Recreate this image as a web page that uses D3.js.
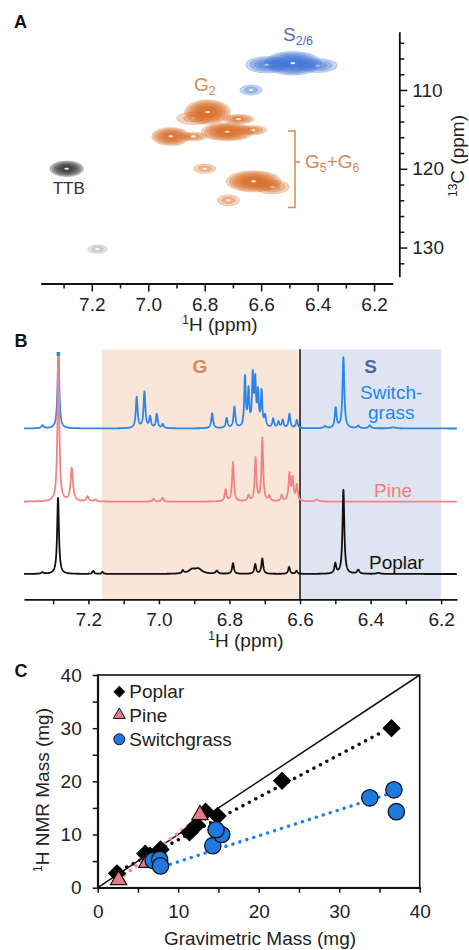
<!DOCTYPE html>
<html>
<head>
<meta charset="utf-8">
<script src="https://cdn.jsdelivr.net/npm/d3@7"></script>
<style>
  body { margin: 0; background: #fff; }
  svg { display: block; font-family: "Liberation Sans", Arial, sans-serif; }
</style>
</head>
<body>
<svg id="fig" width="469" height="950"></svg>
<script>
// ---------------------------------------------------------------------------
// DATA
// ---------------------------------------------------------------------------

// Panel A: HSQC cross peaks [1H ppm, 13C ppm, 1H half-width, 13C half-width, levels, unit]
const hsqcPeaks = [
  [6.580, 106.8, 0.075, 1.05, 4, "S"],
  [6.400, 106.9, 0.070, 0.90, 3, "S"],
  [6.488, 106.6, 0.100, 1.50, 7, "S"],
  [6.636, 110.0, 0.040, 0.65, 2, "S"],
  [6.840, 113.6, 0.060, 0.80, 2, "G"],
  [6.790, 112.8, 0.082, 1.55, 7, "G"],
  [6.680, 113.7, 0.055, 0.60, 4, "G"],
  [6.920, 115.9, 0.068, 1.15, 6, "G"],
  [6.840, 115.9, 0.050, 0.55, 3, "G"],
  [6.630, 115.1, 0.050, 0.60, 3, "G"],
  [6.720, 115.3, 0.092, 1.15, 7, "G"],
  [6.800, 120.0, 0.040, 0.60, 2, "G"],
  [6.560, 122.3, 0.060, 0.90, 3, "G"],
  [6.627, 121.6, 0.097, 1.35, 7, "G"],
  [6.716, 124.0, 0.040, 0.70, 2, "G"],
  [7.289, 120.0, 0.060, 1.00, 6, "TTB"],
  [7.180, 130.2, 0.035, 0.55, 2, "other"]
];
const hsqcColors = { S: "#3a6fd6", G: "#d66a22", TTB: "#333333", other: "#9a9a9a" };

// Panel B: 1H peak lists [ppm, height, half-width]
const switchgrassPeaks = [
  [7.330, 3, 0.004], [7.285, 75, 0.003], [7.063, 31, 0.003], [7.041, 36, 0.003],
  [7.025, 11, 0.003], [7.006, 14, 0.003], [6.989, 4, 0.003], [6.849, 15, 0.003],
  [6.808, 10, 0.003], [6.786, 21, 0.003], [6.756, 50, 0.0025], [6.746, 36, 0.0025],
  [6.734, 50, 0.0025], [6.727, 44, 0.0025], [6.719, 33, 0.0025], [6.709, 35, 0.0025],
  [6.699, 11, 0.003], [6.676, 9, 0.003], [6.661, 6, 0.003], [6.649, 8, 0.003],
  [6.630, 14, 0.003], [6.609, 8, 0.003], [6.529, 2, 0.004], [6.499, 20, 0.003],
  [6.477, 71, 0.003], [6.435, 2.5, 0.004], [6.402, 3, 0.004], [6.336, 1, 0.01]
];
const pinePeaks = [
  [7.285, 145, 0.003], [7.247, 33, 0.004], [7.202, 5, 0.004], [7.180, 2, 0.004],
  [7.015, 3, 0.003], [6.990, 4, 0.003], [6.811, 11.7, 0.003], [6.790, 39, 0.003],
  [6.746, 6, 0.003], [6.726, 43, 0.0028], [6.707, 63, 0.0028], [6.687, 5, 0.003],
  [6.652, 6, 0.003], [6.630, 27, 0.003], [6.621, 22, 0.003], [6.609, 16, 0.003],
  [6.553, 2, 0.006]
];
const poplarPeaks = [
  [7.330, 1.5, 0.004], [7.286, 76, 0.003], [7.186, 3, 0.003], [7.160, 2, 0.003],
  [6.932, 3, 0.003], [6.906, 4, 0.012], [6.888, 4.5, 0.012], [6.836, 3, 0.004],
  [6.790, 10.7, 0.003], [6.727, 9.7, 0.003], [6.707, 15.3, 0.003], [6.631, 7, 0.003],
  [6.610, 3, 0.003], [6.500, 10, 0.003], [6.477, 84, 0.003], [6.435, 4, 0.004],
  [6.378, 1, 0.006]
];
const regionG = [7.162, 6.6];
const regionS = [6.6, 6.2];

// Panel C: gravimetric vs 1H NMR mass (mg)
const poplarGrav = [2.4, 5.9, 6.5, 7.8, 11.4, 12.3, 13.4, 14.9, 22.9, 36.5];
const poplarNmr  = [2.7, 6.4, 6.0, 7.2, 10.4, 11.8, 14.3, 13.5, 20.1, 30.0];
const pineGrav = [2.6, 6.1, 12.7];
const pineNmr  = [1.45, 4.7, 13.7];
const switchgrassGrav = [6.9, 7.7, 7.8, 14.3, 15.4, 14.7, 33.8, 36.8, 37.1];
const switchgrassNmr  = [5.1, 5.3, 4.1, 7.9, 10.0, 10.9, 16.9, 18.4, 14.3];
// linear fits [slope, intercept, xStart, xEnd]
const fitPoplar = [0.80, 1.0, 2.0, 35.5];
const fitPine = [1.18, -1.5, 2.6, 12.6];
const fitSwitchgrass = [0.488, 0.0, 7.3, 36.6];

// ---------------------------------------------------------------------------
// SETUP
// ---------------------------------------------------------------------------
const svg = d3.select("#fig");
const FONT = 19;
const ink = "#222";

function panelLabel(t, x, y) {
  svg.append("text").attr("x", x).attr("y", y)
    .attr("font-size", 18).attr("font-weight", "bold").attr("fill", "#111").text(t);
}

function supLabel(g, pre, rest) {
  g.append("tspan").attr("font-size", 12).attr("dy", -7).text(pre);
  g.append("tspan").attr("dy", 7).text(rest);
}

// -------------------------------------------------------------------------
// PANEL A : 2D HSQC
// -------------------------------------------------------------------------
const xA = d3.scaleLinear().domain([7.381, 6.134]).range([40.7, 392.7]);
const yA = d3.scaleLinear().domain([102.6, 133.7]).range([31.7, 276.7]);

const peaksA = svg.append("g");
hsqcPeaks.forEach(([h, c, wh, wc, n, unit]) => {
  const cx = xA(h), cy = yA(c);
  const rx = Math.abs(xA(h + wh) - cx), ry = Math.abs(yA(c + wc) - cy);
  const col = hsqcColors[unit];
  for (let k = 0; k < n; k++) {
    const s = 1 - k * 0.8 / n;
    peaksA.append("ellipse")
      .attr("cx", cx).attr("cy", cy).attr("rx", rx * s).attr("ry", ry * s)
      .attr("fill", col).attr("fill-opacity", 0.3)
      .attr("stroke", col).attr("stroke-opacity", 0.35).attr("stroke-width", 0.6);
  }
  peaksA.append("ellipse")
    .attr("cx", cx).attr("cy", cy).attr("rx", 2.4).attr("ry", 1.1)
    .attr("fill", "#fff").attr("fill-opacity", 0.85);
});

const ticksA = [73, 72, 71, 70, 69, 68, 67, 66, 65, 64, 63, 62].map(v => v / 10);
const isEven = d => Math.round(d * 10) % 2 === 0;

const axA = svg.append("g").attr("transform", "translate(0,283.5)")
  .call(d3.axisBottom(xA).tickValues(ticksA).tickSizeOuter(0)
    .tickFormat(d => isEven(d) ? d.toFixed(1) : ""));
axA.selectAll(".tick line").attr("y2", d => isEven(d) ? 8 : 5);

const ticksAy = d3.range(104, 133, 2);
const ayA = svg.append("g").attr("transform", "translate(399.3,0)")
  .call(d3.axisRight(yA).tickValues(ticksAy).tickSizeOuter(0)
    .tickFormat(d => d % 10 === 0 ? d : ""));
ayA.selectAll(".tick line").attr("x2", d => d % 10 === 0 ? 8 : 5);
ayA.selectAll(".tick text").attr("x", 13);

// A labels
const sLab = svg.append("text").attr("x", 283).attr("y", 40.7)
  .attr("font-size", FONT).attr("fill", "#4a70b8").text("S");
sLab.append("tspan").attr("font-size", 12.5).attr("dy", 4).text("2/6");

const g2 = svg.append("text").attr("x", 194).attr("y", 90.7)
  .attr("font-size", FONT).attr("fill", "#d8884f").text("G");
g2.append("tspan").attr("font-size", 12.5).attr("dy", 4).text("2");

const g56 = svg.append("text").attr("x", 305).attr("y", 168.3)
  .attr("font-size", FONT).attr("fill", "#d8884f").text("G");
g56.append("tspan").attr("font-size", 12.5).attr("dy", 4).text("5");
g56.append("tspan").attr("dy", -4).text("+G");
g56.append("tspan").attr("font-size", 12.5).attr("dy", 4).text("6");

svg.append("path")
  .attr("d", `M288,${yA(115.2)}H295V${yA(124.9)}H288M295,162H300`)
  .attr("fill", "none").attr("stroke", "#d8884f").attr("stroke-width", 1.5);

svg.append("text").attr("x", 52.7).attr("y", 194.3)
  .attr("font-size", 17).attr("fill", "#333").text("TTB");

const xlabA = svg.append("text").attr("x", 220).attr("y", 331)
  .attr("text-anchor", "middle").attr("font-size", FONT).attr("fill", ink);
supLabel(xlabA, "1", "H (ppm)");

const ylabA = svg.append("text").attr("transform", "translate(464,156) rotate(-90)")
  .attr("text-anchor", "middle").attr("font-size", FONT).attr("fill", ink);
supLabel(ylabA, "13", "C (ppm)");

panelLabel("A", 14, 28);

// -------------------------------------------------------------------------
// PANEL B : 1D 1H spectra
// -------------------------------------------------------------------------
const xB = d3.scaleLinear().domain([7.3825, 6.155]).range([24, 457]);
const yTopB = 349.3, axisYB = 599.3;

svg.append("rect").attr("x", xB(regionG[0])).attr("y", yTopB)
  .attr("width", xB(regionG[1]) - xB(regionG[0])).attr("height", axisYB - yTopB)
  .attr("fill", "#fae6d8");
svg.append("rect").attr("x", xB(regionS[0])).attr("y", yTopB)
  .attr("width", xB(regionS[1]) - xB(regionS[0])).attr("height", axisYB - yTopB)
  .attr("fill", "#dfe4f2");
svg.append("line").attr("x1", xB(6.6)).attr("x2", xB(6.6))
  .attr("y1", yTopB).attr("y2", axisYB).attr("stroke", "#111").attr("stroke-width", 1.5);

const grid = d3.range(7.3825, 6.155, -0.0005);
function spectrum(peaks) {
  return grid.map(x => [x, d3.sum(peaks, ([p, h, w]) => h * w * w / ((x - p) * (x - p) + w * w))]);
}

const spectra = [
  { name: "Switchgrass", peaks: switchgrassPeaks, base: 428.5, color: "#2a86ea" },
  { name: "Pine", peaks: pinePeaks, base: 501.7, color: "#f58282" },
  { name: "Poplar", peaks: poplarPeaks, base: 574, color: "#111" }
];

spectra.forEach(s => {
  const y = d3.scaleLinear().domain([0, 150]).range([s.base, s.base - 150]);
  const line = d3.line().x(d => xB(d[0])).y(d => y(d[1]));
  svg.append("path").attr("d", line(spectrum(s.peaks)))
    .attr("fill", "none").attr("stroke", s.color).attr("stroke-width", 1.8)
    .attr("stroke-linejoin", "round");
  if (s.name === "Switchgrass") {
    const top = d3.max(s.peaks, d => d[1]);
    svg.append("rect").attr("x", xB(7.285) - 1.8).attr("y", y(top) - 1.5)
      .attr("width", 3.6).attr("height", 4).attr("fill", s.color);
  }
});

const axB = svg.append("g").attr("transform", `translate(0,${axisYB})`)
  .call(d3.axisBottom(xB).tickValues(ticksA).tickSizeOuter(0)
    .tickFormat(d => isEven(d) ? d.toFixed(1) : ""));
axB.selectAll(".tick line").attr("y2", 5);

svg.append("text").attr("x", 200).attr("y", 373.3).attr("text-anchor", "middle")
  .attr("font-size", FONT).attr("font-weight", "bold").attr("fill", "#d9884f").text("G");
svg.append("text").attr("x", 370.5).attr("y", 373.3).attr("text-anchor", "middle")
  .attr("font-size", FONT).attr("font-weight", "bold").attr("fill", "#55669e").text("S");
svg.append("text").attr("x", 360).attr("y", 399)
  .attr("font-size", FONT).attr("fill", "#1f86ee").text("Switch-");
svg.append("text").attr("x", 368).attr("y", 418.5)
  .attr("font-size", FONT).attr("fill", "#1f86ee").text("grass");
svg.append("text").attr("x", 374).attr("y", 496.7)
  .attr("font-size", FONT).attr("fill", "#f47c7c").text("Pine");
svg.append("text").attr("x", 369).attr("y", 569)
  .attr("font-size", FONT).attr("fill", "#111").text("Poplar");

const xlabB = svg.append("text").attr("x", 246).attr("y", 646.5)
  .attr("text-anchor", "middle").attr("font-size", FONT).attr("fill", ink);
supLabel(xlabB, "1", "H (ppm)");

panelLabel("B", 14.5, 347);

// -------------------------------------------------------------------------
// PANEL C : mass comparison
// -------------------------------------------------------------------------
const xC = d3.scaleLinear().domain([0, 40]).range([97.7, 419.7]);
const yC = d3.scaleLinear().domain([0, 40]).range([887.7, 675]);

const ticksC = d3.range(0, 41, 5);
const axC = svg.append("g").attr("transform", `translate(0,${yC(0)})`)
  .call(d3.axisBottom(xC).tickValues(ticksC).tickSize(5).tickSizeOuter(0)
    .tickFormat(d => d % 10 === 0 ? d : ""));
const ayC = svg.append("g").attr("transform", `translate(${xC(0)},0)`)
  .call(d3.axisLeft(yC).tickValues(ticksC).tickSize(5).tickSizeOuter(0)
    .tickFormat(d => d % 10 === 0 ? d : ""));
ayC.selectAll(".tick text").attr("x", -16);

svg.append("rect").attr("x", xC(0)).attr("y", yC(40))
  .attr("width", xC(40) - xC(0)).attr("height", yC(0) - yC(40))
  .attr("fill", "none").attr("stroke", "#111").attr("stroke-width", 1.6);

const lineC = d3.line().x(d => xC(d[0])).y(d => yC(d[1]));
svg.append("path").attr("d", lineC([[0, 0], [40, 40]]))
  .attr("stroke", "#111").attr("stroke-width", 1.5).attr("fill", "none");

[[fitPoplar, "#111"], [fitPine, "#ef7f90"], [fitSwitchgrass, "#1f7fe8"]].forEach(([f, col]) => {
  const [m, b, x0, x1] = f;
  svg.append("path").attr("d", lineC([[x0, m * x0 + b], [x1, m * x1 + b]]))
    .attr("fill", "none").attr("stroke", col).attr("stroke-width", 3.4)
    .attr("stroke-linecap", "round").attr("stroke-dasharray", "0.1,7.2");
});

const diamond = d3.symbol(d3.symbolSquare, 144)();
const triangle = d3.symbol(d3.symbolTriangle, 115)();
const circle = d3.symbol(d3.symbolCircle, 210)();

svg.append("g").selectAll("path").data(d3.zip(poplarGrav, poplarNmr)).join("path")
  .attr("d", diamond).attr("transform", d => `translate(${xC(d[0])},${yC(d[1])}) rotate(45)`)
  .attr("fill", "#000").attr("stroke", "#000").attr("stroke-width", 1);
svg.append("g").selectAll("path").data(d3.zip(pineGrav, pineNmr)).join("path")
  .attr("d", triangle).attr("transform", d => `translate(${xC(d[0])},${yC(d[1])})`)
  .attr("fill", "#e8788c").attr("stroke", "#111").attr("stroke-width", 1.2);
svg.append("g").selectAll("path").data(d3.zip(switchgrassGrav, switchgrassNmr)).join("path")
  .attr("d", circle).attr("transform", d => `translate(${xC(d[0])},${yC(d[1])})`)
  .attr("fill", "#1f7ae0").attr("stroke", "#111").attr("stroke-width", 1.3);

// legend
const legend = [
  ["Poplar", d3.symbol(d3.symbolSquare, 55)(), "#000", 45, 691.7],
  ["Pine", d3.symbol(d3.symbolTriangle, 62)(), "#e8788c", 0, 715],
  ["Switchgrass", d3.symbol(d3.symbolCircle, 95)(), "#1f7ae0", 0, 739.3]
];
legend.forEach(([name, sym, col, rot, y]) => {
  svg.append("path").attr("d", sym).attr("transform", `translate(119.3,${y}) rotate(${rot})`)
    .attr("fill", col).attr("stroke", "#111").attr("stroke-width", 1);
  svg.append("text").attr("x", 129.3).attr("y", y).attr("dy", "0.35em")
    .attr("font-size", FONT).attr("fill", ink).text(name);
});

svg.append("text").attr("x", 260).attr("y", 945.3).attr("text-anchor", "middle")
  .attr("font-size", FONT).attr("fill", ink).text("Gravimetric Mass (mg)");
const ylabC = svg.append("text").attr("transform", "translate(49,790) rotate(-90)")
  .attr("text-anchor", "middle").attr("font-size", FONT).attr("fill", ink);
supLabel(ylabC, "1", "H NMR Mass (mg)");

panelLabel("C", 14.5, 677);

// common axis styling
svg.selectAll(".domain").attr("stroke", "#111").attr("stroke-width", 1.8);
svg.selectAll(".tick line").attr("stroke", "#111").attr("stroke-width", 1.5);
svg.selectAll(".tick text").attr("font-size", FONT).attr("fill", ink)
  .attr("font-family", "Liberation Sans, Arial, sans-serif");
axA.selectAll(".tick text").attr("y", 14.5);
axB.selectAll(".tick text").attr("y", 13.7);
axC.selectAll(".tick text").attr("y", 17);
</script>
</body>
</html>
